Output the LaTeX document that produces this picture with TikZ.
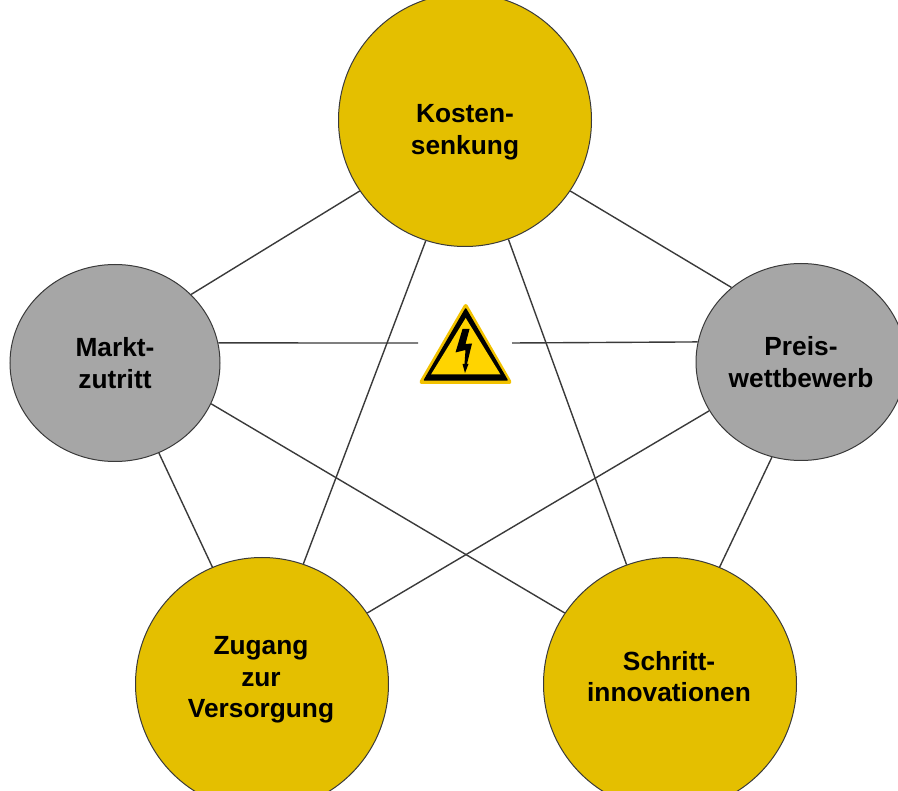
\documentclass[tikz,border=0pt]{standalone}
\usepackage{fontspec}
\setmainfont{Liberation Sans}
\usetikzlibrary{shapes.geometric}
\definecolor{goldfill}{HTML}{E4BF00}
\definecolor{greyfill}{HTML}{A6A6A6}
\definecolor{signyellow}{HTML}{FFD400}
\definecolor{signedge}{HTML}{F2C200}
\definecolor{linedark}{HTML}{3A3A3A}
\tikzset{
    topic/.style={draw=linedark, line width=1pt, inner sep=0pt},
    goldtopic/.style={topic, circle, fill=goldfill, minimum size=253pt},
    greytopic/.style={topic, ellipse, fill=greyfill, minimum width=210pt, minimum height=197pt},
    topictext/.style={align=center, inner sep=0pt, font=\fontsize{26.3}{31.5}\selectfont\bfseries},
    link/.style={draw=linedark, line width=1.4pt}
}
\begin{document}
\begin{tikzpicture}[x=1pt, y=-1pt]
    \useasboundingbox (0,0) rectangle (898,791);
    \node[goldtopic] (kosten) at (465,120) {};
    \node[greytopic] (markt) at (115,363) {};
    \node[greytopic] (preis) at (801,362) {};
    \node[goldtopic] (zugang) at (262,684) {};
    \node[goldtopic] (schritt) at (670,684) {};
    \node[topictext, yshift=-12pt] (kostentext) at (kosten) {Kosten-\\senkung};
    \node[topictext] (markttext) at (markt) {Markt-\\zutritt};
    \node[topictext] (preistext) at (preis) {Preis-\\wettbewerb};
    \node[topictext, yshift=4pt, xshift=-1pt] (zugangtext) at (zugang) {Zugang\\zur\\Versorgung};
    \node[topictext, yshift=7.5pt, xshift=-1pt] (schritttext) at (schritt) {Schritt-\\innovationen};
    \coordinate (warnL) at (418,343);
    \coordinate (warnR) at (512,343);
    % connectors
    \draw[link] (kosten.214) -- (markt.42);
    \draw[link] (kosten.-34) -- (preis.133);
    \draw[link] (kosten.252) -- (zugang.71);
    \draw[link] (kosten.-70) -- (schritt.110);
    \draw[link] (markt.-23) -- (schritt.146);
    \draw[link] (preis.208) -- (zugang.34);
    \draw[link] (markt.-64) -- (zugang.113);
    \draw[link] (preis.253) -- (schritt.67);
    \draw[link] (markt.11) -- (warnL);
    \draw[link] (preis.169.5) -- (warnR);
    % warning sign
    \fill[signedge, draw=signedge, line width=4pt, line join=round] (465.7,306) -- (421.5,382) -- (509.5,382) -- cycle;
    \fill[black, draw=black, line width=1.5pt, line join=round] (465.7,309) -- (424.5,380) -- (507,380) -- cycle;
    \fill[signyellow] (465.7,318) -- (431,374.5) -- (500.5,374.5) -- cycle;
    \fill[black] (462.5,329) -- (469.5,329) -- (465.5,344) -- (472,343.5) -- (467,364) -- (468.5,364)
        -- (465,373) -- (462.5,364) -- (464.5,364) -- (465.5,350) -- (455.5,352.5) -- cycle;
\end{tikzpicture}
\end{document}
